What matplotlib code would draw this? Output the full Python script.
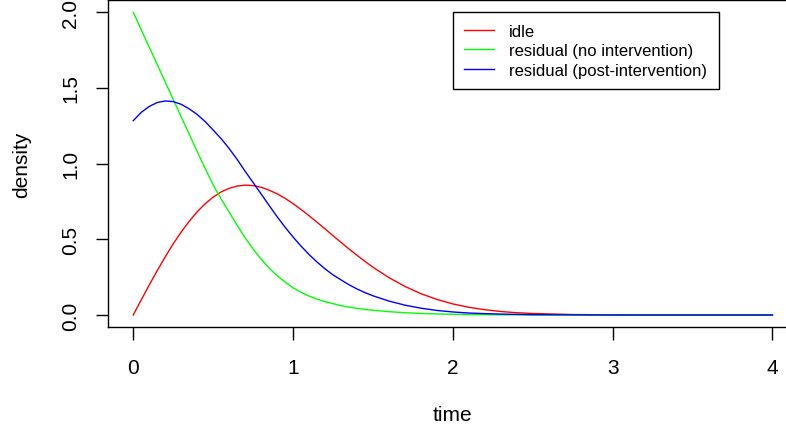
import matplotlib
matplotlib.use("Agg")
import matplotlib.pyplot as plt

plt.rcParams['font.family'] = ['Liberation Sans', 'DejaVu Sans']

# values: 0.05 steps up to 1.5, then coarser in the flat tail
time = [0.0, 0.05, 0.1, 0.15, 0.2, 0.25, 0.3, 0.35, 0.4, 0.45,
        0.5, 0.55, 0.6, 0.65, 0.7, 0.75, 0.8, 0.85, 0.9, 0.95,
        1.0, 1.05, 1.1, 1.15, 1.2, 1.25, 1.3, 1.35, 1.4, 1.45,
        1.5, 1.6, 1.7, 1.8, 1.9, 2.0, 2.1, 2.2, 2.3, 2.4,
        2.5, 2.75, 3.0, 3.25, 3.5, 3.75, 4.0]
idle = [0.0, 0.100, 0.198, 0.293, 0.384, 0.470, 0.548, 0.619, 0.682, 0.735,
        0.779, 0.813, 0.837, 0.852, 0.858, 0.855, 0.844, 0.825, 0.801, 0.771,
        0.736, 0.697, 0.656, 0.613, 0.569, 0.524, 0.480, 0.436, 0.395, 0.354,
        0.316, 0.247, 0.189, 0.141, 0.103, 0.073, 0.051, 0.035, 0.023, 0.015,
        0.010, 0.003, 0.001, 0.0, 0.0, 0.0, 0.0]
resid_none = [2.000, 1.885, 1.770, 1.655, 1.540, 1.425, 1.310, 1.195, 1.080, 0.968,
              0.860, 0.766, 0.680, 0.593, 0.510, 0.436, 0.370, 0.310, 0.260, 0.218,
              0.180, 0.150, 0.125, 0.105, 0.088, 0.075, 0.062, 0.052, 0.044, 0.037,
              0.031, 0.022, 0.015, 0.010, 0.007, 0.005, 0.003, 0.002, 0.001, 0.001,
              0.0005, 0.0, 0.0, 0.0, 0.0, 0.0, 0.0]
resid_post = [1.284, 1.339, 1.378, 1.404, 1.414, 1.410, 1.392, 1.362, 1.325, 1.278,
              1.222, 1.165, 1.100, 1.028, 0.950, 0.875, 0.800, 0.724, 0.650, 0.580,
              0.515, 0.455, 0.400, 0.350, 0.305, 0.265, 0.232, 0.200, 0.172, 0.148,
              0.127, 0.092, 0.065, 0.045, 0.030, 0.020, 0.013, 0.009, 0.006, 0.004,
              0.002, 0.001, 0.0, 0.0, 0.0, 0.0, 0.0]

labels = ['idle', 'residual (no intervention)', 'residual (post-intervention)']
xticks = [0, 1, 2, 3, 4]
yticks = [0.0, 0.5, 1.0, 1.5, 2.0]

W, H = 786, 435
fig = plt.figure(figsize=(W/100, H/100), dpi=100)
# plot box runs off the right edge like in the original
ax = fig.add_axes([107.7/W, 1 - 328.1/H, (798.0 - 107.7)/W, (328.1 - 1.2)/H])

ax.plot(time, idle, color='#ff0000', lw=1.0, label=labels[0])
ax.plot(time, resid_none, color='#00ff00', lw=1.0, label=labels[1])
ax.plot(time, resid_post, color='#0000ff', lw=1.0, label=labels[2])

ax.set_xlim(-0.16, 4.16)
ax.set_ylim(-0.08, 2.08)
ax.set_xticks(xticks)
ax.set_xticklabels([str(v) for v in xticks])
ax.set_yticks(yticks)
ax.set_yticklabels(['%.1f' % v for v in yticks], rotation=90, va='center')
ax.tick_params(direction='out', length=9, width=1.0, labelsize=15, color='black')
ax.tick_params(axis='x', pad=13)
ax.tick_params(axis='y', pad=11)
for s in ax.spines.values():
    s.set_linewidth(1.0)
    s.set_color('black')

fig.text(452.9/W, 1 - 416/H, 'time', ha='center', va='center', fontsize=15)
fig.text(22/W, 1 - 164.7/H, 'density', ha='center', va='center', fontsize=15, rotation=90)

leg = ax.legend(loc='upper left', bbox_to_anchor=(452.7/W, 1 - 13.3/H),
                bbox_transform=fig.transFigure, borderaxespad=0, fontsize=12,
                handlelength=1.8, handletextpad=0.9, labelspacing=0.26,
                borderpad=0.7, fancybox=False, framealpha=1, edgecolor='black')
leg.get_frame().set_linewidth(1.0)

fig.savefig('out.png', dpi=100)
